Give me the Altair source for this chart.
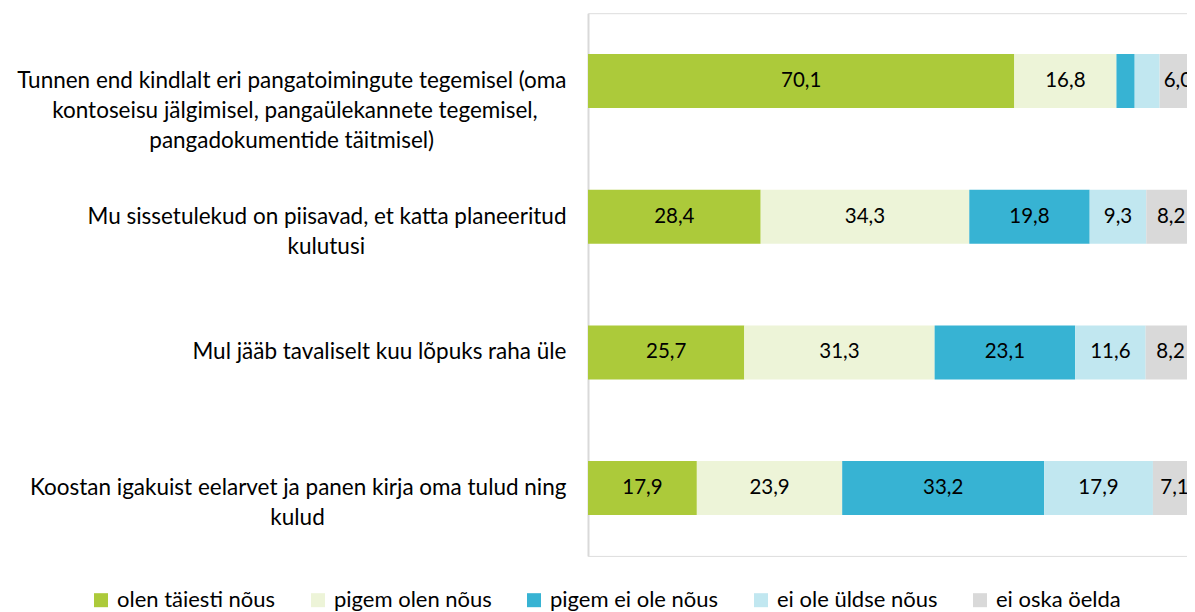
import altair as alt
import pandas as pd

NB = "\u00a0"
ZW = "\u200b"  # keeps the trailing no-break spaces from being trimmed

statements = [
    "Tunnen end kindlalt eri pangatoimingute tegemisel (oma kontoseisu jälgimisel, pangaülekannete tegemisel, pangadokumentide täitmisel)",
    "Mu sissetulekud on piisavad, et katta planeeritud kulutusi",
    "Mul jääb tavaliselt kuu lõpuks raha üle",
    "Koostan igakuist eelarvet ja panen kirja oma tulud ning kulud",
]
# label lines (trailing no-break spaces keep short lines centred under the first line)
label_lines = [
    ["Tunnen end kindlalt eri pangatoimingute tegemisel (oma",
     "kontoseisu jälgimisel, pangaülekannete tegemisel," + NB * 5 + ZW,
     "pangadokumentide täitmisel)" + NB * 23 + ZW],
    ["Mu sissetulekud on piisavad, et katta planeeritud",
     "kulutusi" + NB * 35 + ZW],
    ["Mul jääb tavaliselt kuu lõpuks raha üle"],
    ["Koostan igakuist eelarvet ja panen kirja oma tulud ning",
     "kulud" + NB * 42 + ZW],
]

categories = ["olen täiesti nõus", "pigem olen nõus", "pigem ei ole nõus",
              "ei ole üldse nõus", "ei oska öelda"]
colors = ["#acca3a", "#edf4d8", "#37b3d3", "#c1e7f0", "#d9d9d9"]

taiesti = [70.1, 28.4, 25.7, 17.9]
pigem_nous = [16.8, 34.3, 31.3, 23.9]
pigem_ei = [3.0, 19.8, 23.1, 33.2]
uldse_ei = [4.1, 9.3, 11.6, 17.9]
ei_oska = [6.0, 8.2, 8.2, 7.1]

series = [taiesti, pigem_nous, pigem_ei, uldse_ei, ei_oska]

rows = []
for si, (cat, vals) in enumerate(zip(categories, series)):
    for qi, q in enumerate(statements):
        rows.append({"q": q, "qi": qi, "cat": cat, "ci": si, "v": vals[qi]})
df = pd.DataFrame(rows)

cases = ""
for q, lines in zip(statements, label_lines):
    arr = "[" + ", ".join("'" + l.replace("'", "\\'") + "'" for l in lines) + "]"
    cases += f"datum.value == '{q}' ? {arr} : "
cases += "datum.value"

FONT = "Lato"

y = alt.Y("q:N", sort=statements, title=None,
          scale=alt.Scale(paddingInner=0.602, paddingOuter=0.301),
          axis=alt.Axis(labelExpr=cases, labelFont=FONT, labelFontSize=22.5,
                        labelColor="#000000", labelPadding=22, labelLimit=700,
                        labelLineHeight=30, ticks=False, domainColor="#d9d9d9",
                        domainWidth=2, labelAlign="right"))

base = alt.Chart(df).transform_stack(
    stack="v", groupby=["q"], as_=["x0", "x1"], sort=[alt.SortField("ci", "ascending")]
).transform_calculate(
    mid="(datum.x0 + datum.x1) / 2",
    lab="replace(format(datum.v, '.1f'), '.', ',')",
)

xscale = alt.Scale(domain=[0, 98.5], nice=False, zero=True)

bars = base.mark_bar(stroke=None, clip=True).encode(
    x=alt.X("x0:Q", scale=xscale, axis=None),
    x2="x1:Q",
    y=y,
    color=alt.Color("cat:N", sort=categories,
                    scale=alt.Scale(domain=categories, range=colors),
                    legend=alt.Legend(title=None, orient="none", direction="horizontal",
                                      legendX=-498, legendY=576,
                                      symbolType="square", symbolSize=196,
                                      symbolStrokeWidth=0, labelFont=FONT,
                                      labelFontSize=22, labelColor="#000000",
                                      columnPadding=31, labelOffset=5,
                                      labelLimit=300)),
)

texts = base.transform_filter("datum.v >= 5").mark_text(
    font=FONT, fontSize=20.5, color="#000000", baseline="middle", align="center",
).encode(
    x=alt.X("mid:Q", scale=xscale, axis=None),
    y=alt.Y("q:N", sort=statements),
    text="lab:N",
)

chart = alt.layer(bars, texts).properties(
    width=599, height=542.7,
    padding={"left": 580, "top": 5.2, "right": 0, "bottom": 56},
    autosize=alt.AutoSizeParams(type="none"),
).configure_view(stroke=None).configure(background="#ffffff")

chart.save("out.html", embed_options={"renderer": "svg", "actions": False})
